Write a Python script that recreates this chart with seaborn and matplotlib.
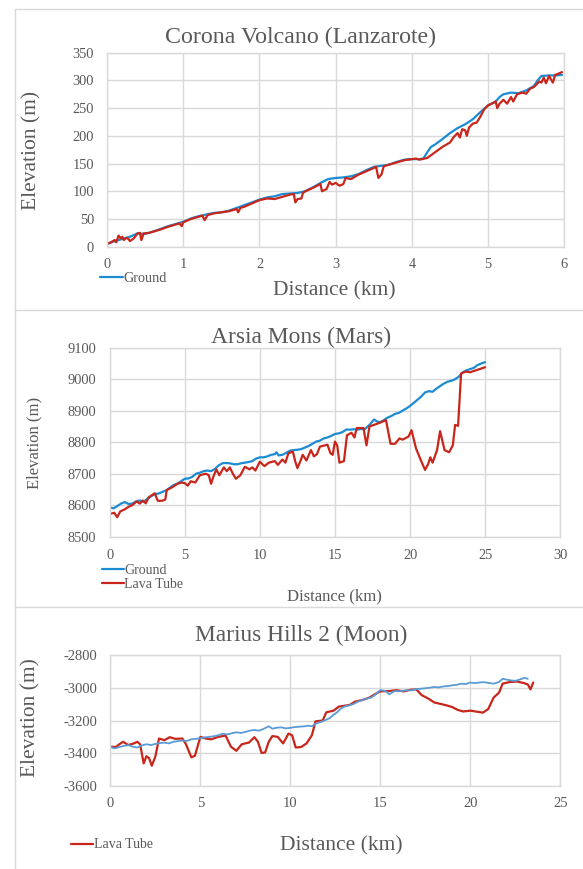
import numpy as np
import pandas as pd
import matplotlib
matplotlib.use("Agg")
import matplotlib.pyplot as plt
from matplotlib.lines import Line2D
import seaborn as sns

# ---------------- data ----------------
# Panel 1: Corona Volcano (Lanzarote)
corona_ground_x = [0, 0.1, 0.2, 0.3, 0.4, 0.5, 0.6, 0.7, 0.8, 0.9, 1.0, 1.1, 1.2, 1.3, 1.4, 1.5,
                   1.6, 1.7, 1.8, 1.9, 2.0, 2.1, 2.2, 2.3, 2.4, 2.5, 2.6, 2.7, 2.8, 2.9, 3.0, 3.1,
                   3.2, 3.3, 3.4, 3.5, 3.6, 3.7, 3.8, 3.9, 4.0, 4.1, 4.15, 4.2, 4.25, 4.3, 4.4,
                   4.5, 4.6, 4.7, 4.8, 4.9, 5.0, 5.1, 5.15, 5.2, 5.3, 5.4, 5.5, 5.6, 5.65, 5.7,
                   5.8, 5.9, 5.97]
corona_ground_y = [5, 10, 14, 18, 24, 23, 27, 32, 37, 41, 45, 51, 55, 58, 61, 62,
                   65, 70, 75, 80, 85, 89, 91, 95, 96, 97, 100, 107, 115, 122, 124, 125,
                   127, 131, 138, 144, 146, 148, 153, 157, 158, 158, 159, 170, 180, 184, 194,
                   205, 214, 221, 230, 243, 255, 262, 270, 275, 278, 277, 282, 290, 300, 308,
                   309, 309, 310]
corona_tube_x = [0, 0.05, 0.1, 0.12, 0.15, 0.18, 0.2, 0.22, 0.25, 0.28, 0.3, 0.35, 0.4, 0.43,
                 0.45, 0.48, 0.55, 0.6, 0.7, 0.8, 0.9, 0.95, 0.98, 1.0, 1.1, 1.2, 1.25, 1.28,
                 1.32, 1.4, 1.5, 1.6, 1.7, 1.72, 1.75, 1.8, 1.9, 2.0, 2.1, 2.2, 2.3, 2.4, 2.45,
                 2.47, 2.5, 2.55, 2.57, 2.6, 2.7, 2.8, 2.82, 2.88, 2.92, 2.95, 3.0, 3.05, 3.1,
                 3.13, 3.2, 3.3, 3.4, 3.5, 3.53, 3.56, 3.6, 3.63, 3.7, 3.8, 3.9, 4.0, 4.05,
                 4.1, 4.2, 4.3, 4.4, 4.5, 4.55, 4.6, 4.63, 4.66, 4.7, 4.72, 4.75, 4.8, 4.85,
                 4.9, 4.95, 5.0, 5.05, 5.1, 5.12, 5.15, 5.2, 5.25, 5.3, 5.33, 5.38, 5.45, 5.5,
                 5.55, 5.6, 5.63, 5.67, 5.7, 5.73, 5.76, 5.8, 5.85, 5.88, 5.92, 5.97]
corona_tube_y = [5, 8, 12, 8, 20, 15, 18, 12, 16, 14, 10, 15, 24, 25,
                 12, 24, 25, 27, 31, 36, 40, 42, 37, 44, 50, 54, 56, 48,
                 57, 60, 62, 64, 68, 62, 70, 72, 78, 84, 87, 86, 90, 94, 95,
                 80, 86, 87, 97, 100, 106, 113, 100, 104, 117, 112, 115, 110, 113,
                 124, 122, 130, 136, 142, 144, 124, 130, 145, 148, 152, 156, 158, 159,
                 157, 160, 170, 180, 188, 198, 205, 197, 212, 210, 200, 215, 222, 224,
                 235, 248, 255, 258, 262, 250, 258, 265, 258, 270, 262, 275, 278, 276,
                 285, 288, 292, 298, 296, 305, 295, 308, 296, 310, 312, 315]

# Panel 2: Arsia Mons (Mars)
arsia_ground_x = [0, 0.25, 0.5, 0.75, 1, 1.25, 1.5, 1.75, 2, 2.25, 2.5, 2.75, 3, 3.25, 3.5,
                  3.75, 4, 4.25, 4.5, 4.75, 5, 5.25, 5.5, 5.75, 6, 6.25, 6.5, 6.75, 7, 7.25,
                  7.5, 7.75, 8, 8.25, 8.5, 8.75, 9, 9.25, 9.5, 9.75, 10, 10.25, 10.5, 10.75,
                  11, 11.1, 11.25, 11.5, 11.75, 12, 12.25, 12.5, 12.75, 13, 13.25, 13.5,
                  13.75, 14, 14.25, 14.5, 14.75, 15, 15.25, 15.5, 15.75, 16, 16.25, 16.5,
                  16.75, 17, 17.3, 17.6, 17.8, 18, 18.25, 18.5, 18.75, 19, 19.25, 19.5,
                  19.75, 20, 20.25, 20.5, 20.75, 21, 21.25, 21.5, 21.75, 22, 22.25, 22.5,
                  22.75, 23, 23.25, 23.5, 23.75, 24, 24.25, 24.5, 24.75, 25]
arsia_ground_y = [8593, 8590, 8597, 8605, 8610, 8604, 8605, 8612, 8615, 8611, 8620, 8628,
                  8635, 8637, 8642, 8647, 8655, 8664, 8668, 8676, 8684, 8685, 8690, 8700,
                  8703, 8708, 8710, 8708, 8715, 8726, 8733, 8734, 8733, 8730, 8730, 8733,
                  8735, 8737, 8740, 8748, 8752, 8752, 8755, 8760, 8762, 8768, 8758, 8760,
                  8766, 8773, 8775, 8776, 8778, 8783, 8788, 8795, 8802, 8805, 8812, 8815,
                  8820, 8826, 8828, 8832, 8840, 8840, 8841, 8840, 8842, 8842, 8855, 8872,
                  8866, 8863, 8870, 8878, 8883, 8890, 8893, 8900, 8907, 8915, 8925, 8935,
                  8945, 8958, 8962, 8960, 8970, 8978, 8986, 8992, 8995, 9000, 9008, 9022,
                  9028, 9032, 9036, 9045, 9050, 9054]
arsia_tube_x = [0, 0.3, 0.5, 0.7, 1.0, 1.3, 1.5, 1.8, 2.0, 2.2, 2.4, 2.6, 3.0, 3.2, 3.5, 3.7,
                3.8, 4.2, 4.5, 4.8, 5.0, 5.2, 5.4, 5.7, 6.0, 6.4, 6.6, 6.75, 6.9, 7.1, 7.3,
                7.6, 7.8, 8.0, 8.2, 8.4, 8.7, 9.0, 9.3, 9.5, 9.7, 10.0, 10.3, 10.6, 11.0,
                11.2, 11.5, 11.7, 11.9, 12.2, 12.35, 12.5, 12.7, 12.85, 13.1, 13.4, 13.6,
                13.8, 14.0, 14.5, 14.7, 14.85, 15.0, 15.15, 15.3, 15.6, 15.8, 16.1, 16.3,
                16.45, 16.9, 17.1, 17.3, 17.6, 18.0, 18.4, 18.7, 19.0, 19.3, 19.5, 19.9,
                20.1, 20.4, 20.7, 21.0, 21.2, 21.35, 21.5, 21.8, 22.0, 22.3, 22.6, 22.85,
                23.0, 23.2, 23.4, 23.7, 24.0, 24.5, 25.0]
arsia_tube_y = [8572, 8576, 8562, 8580, 8587, 8596, 8600, 8612, 8605, 8615, 8606, 8625,
                8638, 8614, 8614, 8618, 8648, 8658, 8668, 8672, 8670, 8662, 8676, 8672,
                8695, 8700, 8695, 8668, 8690, 8714, 8695, 8720, 8708, 8720, 8700, 8684,
                8695, 8722, 8714, 8720, 8710, 8738, 8724, 8735, 8740, 8728, 8745, 8735,
                8765, 8770, 8740, 8718, 8740, 8760, 8742, 8775, 8755, 8762, 8786, 8792,
                8765, 8760, 8802, 8790, 8735, 8740, 8822, 8830, 8815, 8845, 8845, 8790,
                8850, 8855, 8862, 8870, 8795, 8795, 8812, 8808, 8818, 8838, 8780, 8745,
                8712, 8730, 8752, 8735, 8775, 8835, 8775, 8768, 8790, 8855, 8852, 9018,
                9024, 9022, 9030, 9038]

# Panel 3: Marius Hills 2 (Moon)
marius_ground_x = [0, 0.25, 0.5, 0.75, 1, 1.25, 1.5, 1.75, 2, 2.25, 2.5, 2.75, 3, 3.25, 3.5,
                   3.75, 4, 4.25, 4.5, 4.75, 5, 5.25, 5.5, 5.75, 6, 6.25, 6.5, 6.75, 7, 7.25,
                   7.5, 7.75, 8, 8.25, 8.5, 8.8, 9, 9.25, 9.5, 9.75, 10, 10.25, 10.5, 10.75,
                   11, 11.2, 11.4, 11.6, 11.8, 12, 12.2, 12.4, 12.6, 12.8, 13, 13.25, 13.5,
                   13.75, 14, 14.25, 14.5, 14.75, 15, 15.3, 15.5, 15.8, 16, 16.25, 16.5,
                   16.75, 17, 17.25, 17.5, 17.75, 18, 18.25, 18.5, 18.75, 19, 19.25, 19.5,
                   19.75, 20, 20.25, 20.5, 20.75, 21, 21.3, 21.6, 21.8, 22, 22.25, 22.5,
                   22.75, 23, 23.2]
marius_ground_y = [-3364, -3370, -3362, -3355, -3350, -3360, -3365, -3352, -3345, -3350,
                   -3343, -3338, -3335, -3340, -3330, -3326, -3322, -3325, -3315, -3312,
                   -3308, -3303, -3300, -3296, -3290, -3280, -3285, -3278, -3272, -3276,
                   -3270, -3262, -3258, -3262, -3252, -3235, -3250, -3244, -3242, -3248,
                   -3245, -3240, -3238, -3236, -3232, -3235, -3220, -3212, -3205, -3195,
                   -3185, -3165, -3150, -3128, -3115, -3108, -3100, -3085, -3075, -3066,
                   -3060, -3040, -3014, -3020, -3040, -3020, -3022, -3018, -3015, -3016,
                   -3008, -3006, -3003, -3000, -2995, -2998, -2992, -2990, -2985, -2982,
                   -2975, -2978, -2968, -2972, -2968, -2966, -2970, -2975, -2965, -2945,
                   -2950, -2955, -2958, -2950, -2940, -2945]
marius_tube_x = [0, 0.3, 0.5, 0.7, 1.0, 1.3, 1.5, 1.65, 1.85, 2.0, 2.15, 2.3, 2.5, 2.7, 3.0,
                 3.3, 3.6, 4.0, 4.2, 4.5, 4.7, 5.0, 5.3, 5.6, 6.0, 6.4, 6.7, 7.0, 7.3, 7.7,
                 8.0, 8.2, 8.4, 8.6, 8.8, 9.0, 9.3, 9.6, 9.9, 10.1, 10.3, 10.6, 10.9, 11.2,
                 11.4, 11.8, 12.0, 12.4, 12.7, 13.0, 13.3, 13.6, 14.0, 14.4, 14.7, 15.0,
                 15.5, 15.9, 16.3, 16.7, 17.0, 17.3, 17.7, 18.0, 18.4, 18.7, 19.0, 19.3,
                 19.6, 20.0, 20.3, 20.7, 21.0, 21.3, 21.6, 21.8, 22.2, 22.6, 23.0, 23.2,
                 23.35, 23.5]
marius_tube_y = [-3360, -3362, -3345, -3330, -3350, -3340, -3330, -3345, -3462, -3418,
                 -3430, -3476, -3420, -3310, -3320, -3302, -3312, -3310, -3345, -3425,
                 -3415, -3300, -3310, -3315, -3300, -3292, -3360, -3385, -3345, -3335,
                 -3302, -3330, -3398, -3395, -3330, -3295, -3300, -3340, -3280, -3290,
                 -3365, -3362, -3340, -3290, -3205, -3200, -3150, -3140, -3115, -3110,
                 -3105, -3085, -3075, -3060, -3040, -3022, -3020, -3015, -3022, -3012,
                 -3010, -3045, -3068, -3090, -3100, -3108, -3118, -3135, -3145, -3140,
                 -3145, -3152, -3130, -3060, -3030, -2975, -2965, -2962, -2972, -2980,
                 -3010, -2968]

titles = ["Corona Volcano (Lanzarote)", "Arsia Mons (Mars)", "Marius Hills 2 (Moon)"]
xlabel = "Distance (km)"
ylabel = "Elevation (m)"

# ---------------- style ----------------
sns.set_style("white")
plt.rcParams['font.family'] = ['Liberation Serif', 'DejaVu Serif']
plt.rcParams['axes.unicode_minus'] = False

W, H = 583, 869
TXT = "#595959"
GRID = "#d9d9d9"
BLUE = "#1c8bd2"
BLUE3 = "#5b9bd5"
RED = "#c9261b"

fig = plt.figure(figsize=(W / 100, H / 100), dpi=100)


def rect(l, r, t, b):
    return [l / W, 1 - b / H, (r - l) / W, (b - t) / H]


def fx(x):
    return x / W


def fy(y):
    return 1 - y / H


def style_axis(ax, xlim, ylim, xticks, yticks, tsize, ypad, xpad):
    ax.set_xlim(*xlim)
    ax.set_ylim(*ylim)
    ax.set_xticks(xticks)
    ax.set_yticks(yticks)
    ax.grid(True, color=GRID, lw=1.0)
    ax.set_axisbelow(True)
    for s in ax.spines.values():
        s.set_color(GRID)
        s.set_linewidth(1.0)
    ax.tick_params(axis='both', length=0, labelsize=tsize, labelcolor=TXT)
    ax.tick_params(axis='y', pad=ypad)
    ax.tick_params(axis='x', pad=xpad)
    ax.set_xlabel("")
    ax.set_ylabel("")


# ---------- panel 1 ----------
ax1 = fig.add_axes(rect(107.1, 564.3, 52.7, 246.7))
d1g = pd.DataFrame({"d": corona_ground_x, "e": corona_ground_y})
d1t = pd.DataFrame({"d": corona_tube_x, "e": corona_tube_y})
sns.lineplot(data=d1g, x="d", y="e", ax=ax1, color=BLUE, lw=1.6, estimator=None,
             sort=False, label="Ground", legend=False)
sns.lineplot(data=d1t, x="d", y="e", ax=ax1, color=RED, lw=1.6, estimator=None,
             sort=False, label="Lava Tube", legend=False)
style_axis(ax1, (0, 6), (0, 350), range(0, 7), range(0, 351, 50), 10.4, 9.5, 8)
fig.text(fx(300.4), fy(37), titles[0], ha='center', va='center', fontsize=17.2, color=TXT)
fig.text(fx(334.6), fy(291), xlabel, ha='center', va='center', fontsize=15.5, color=TXT)
fig.text(fx(31.6), fy(150), ylabel, ha='center', va='center', rotation=90, fontsize=15.5,
         color=TXT)
l1 = ax1.get_lines()
ax1.legend([l1[0]], ["Ground"], loc='center left', bbox_to_anchor=(fx(100), fy(278)),
           bbox_transform=fig.transFigure, frameon=False, fontsize=10.2, borderpad=0,
           borderaxespad=0, handlelength=1.6, handletextpad=0.05, labelcolor=TXT)

# ---------- panel 2 ----------
ax2 = fig.add_axes(rect(109.7, 560.2, 347.7, 536.7))
d2g = pd.DataFrame({"d": arsia_ground_x, "e": arsia_ground_y})
d2t = pd.DataFrame({"d": arsia_tube_x, "e": arsia_tube_y})
sns.lineplot(data=d2g, x="d", y="e", ax=ax2, color=BLUE, lw=1.6, estimator=None,
             sort=False, label="Ground", legend=False)
sns.lineplot(data=d2t, x="d", y="e", ax=ax2, color=RED, lw=1.6, estimator=None,
             sort=False, label="Lava Tube", legend=False)
style_axis(ax2, (0, 30), (8500, 9100), range(0, 31, 5), range(8500, 9101, 100), 10.4, 10, 9)
fig.text(fx(301), fy(337), titles[1], ha='center', va='center', fontsize=16.9, color=TXT)
fig.text(fx(334.8), fy(596), xlabel, ha='center', va='center', fontsize=12, color=TXT)
fig.text(fx(34.6), fy(443), ylabel, ha='center', va='center', rotation=90, fontsize=12,
         color=TXT)
l2 = ax2.get_lines()
ax2.legend([l2[0], l2[1]], ["Ground", "Lava Tube"], loc='upper left',
           bbox_to_anchor=(fx(101.5), fy(564)), bbox_transform=fig.transFigure,
           frameon=False, fontsize=10, borderpad=0, borderaxespad=0, handlelength=1.6,
           handletextpad=0.05, labelspacing=0.05, labelcolor=TXT)

# ---------- panel 3 ----------
ax3 = fig.add_axes(rect(110.4, 560.2, 655, 786))
d3g = pd.DataFrame({"d": marius_ground_x, "e": marius_ground_y})
d3t = pd.DataFrame({"d": marius_tube_x, "e": marius_tube_y})
sns.lineplot(data=d3t, x="d", y="e", ax=ax3, color=RED, lw=1.6, estimator=None,
             sort=False, label="Lava Tube", legend=False)
sns.lineplot(data=d3g, x="d", y="e", ax=ax3, color=BLUE3, lw=1.3, estimator=None,
             sort=False, label="Ground", legend=False)
style_axis(ax3, (0, 25), (-3600, -2800), range(0, 26, 5), range(-3600, -2799, 200), 10.5,
           9.5, 8)
fig.text(fx(301), fy(635), titles[2], ha='center', va='center', fontsize=16.8, color=TXT)
fig.text(fx(341), fy(846), xlabel, ha='center', va='center', fontsize=15.5, color=TXT)
fig.text(fx(30.5), fy(718), ylabel, ha='center', va='center', rotation=90, fontsize=15.4,
         color=TXT)
l3 = ax3.get_lines()
ax3.legend([l3[0]], ["Lava Tube"], loc='center left', bbox_to_anchor=(fx(70.6), fy(845)),
           bbox_transform=fig.transFigure, frameon=False, fontsize=10, borderpad=0,
           borderaxespad=0, handlelength=1.6, handletextpad=0.05, labelcolor=TXT)

# ---------- panel frames ----------
for (x0, y0, x1, y1) in [(14.9, 9.3, 583, 9.3), (14.9, 9.3, 14.9, 869),
                         (14.9, 310, 583, 310), (14.9, 607, 583, 607)]:
    fig.add_artist(Line2D([fx(x0), fx(x1)], [fy(y0), fy(y1)], color=GRID, lw=1.0,
                          transform=fig.transFigure))

fig.savefig("out.png", dpi=100)
